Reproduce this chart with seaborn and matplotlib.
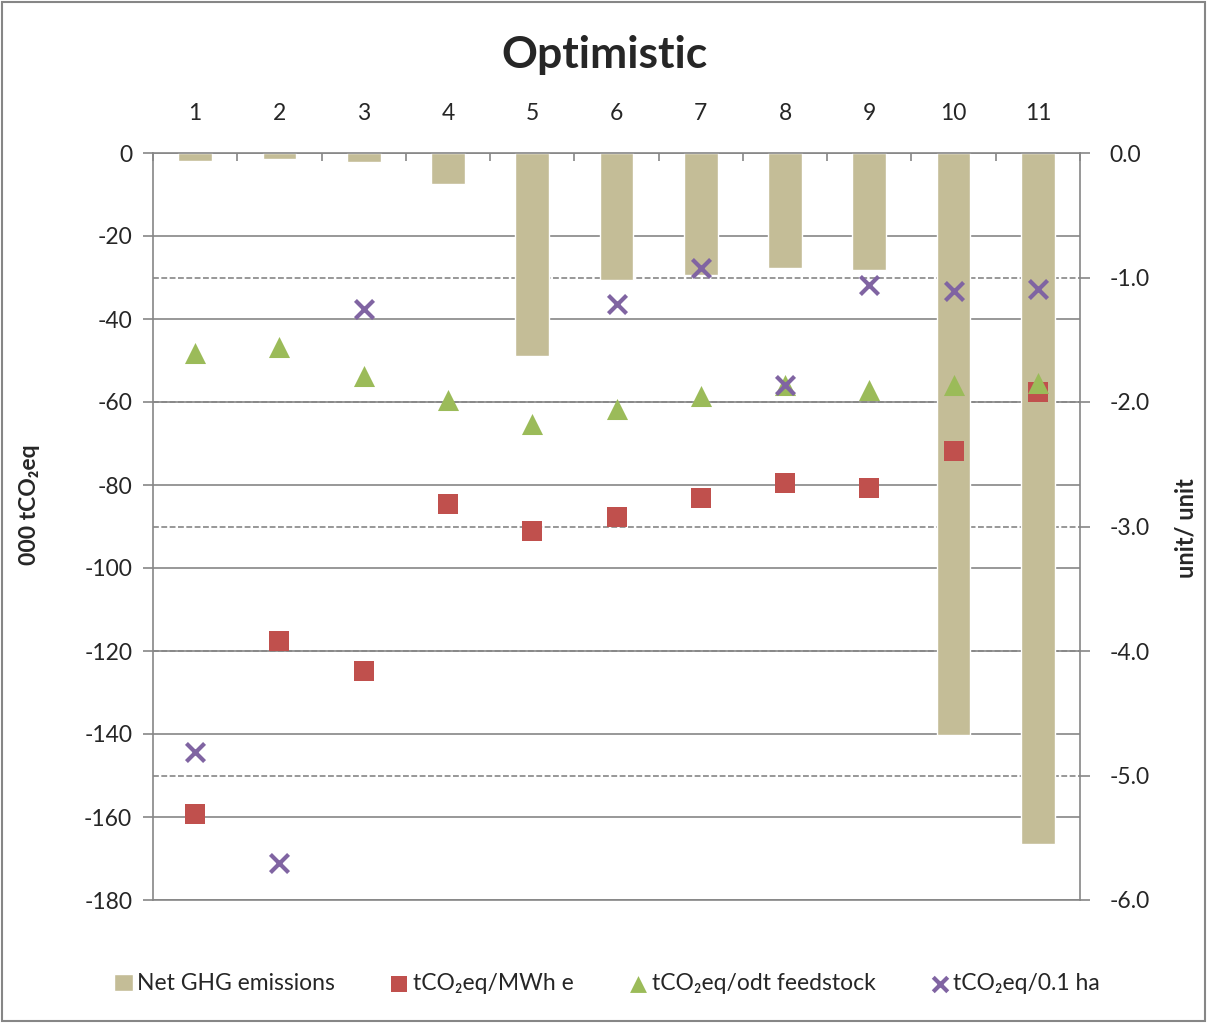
import numpy as np
import pandas as pd
import matplotlib
matplotlib.use("Agg")
import matplotlib.pyplot as plt
import seaborn as sns
from matplotlib.patches import Rectangle

# ---- data ----
categories = ["1", "2", "3", "4", "5", "6", "7", "8", "9", "10", "11"]
net_ghg = [-2.0, -1.5, -2.2, -7.5, -49.0, -30.6, -29.4, -27.7, -28.2, -140.2, -166.5]
per_mwh = [-5.31, -3.92, -4.16, -2.82, -3.04, -2.92, -2.77, -2.65, -2.69, -2.39, -1.92]
per_odt = [-1.61, -1.56, -1.79, -1.98, -2.18, -2.06, -1.95, -1.86, -1.90, -1.86, -1.85]
per_ha = [-4.81, -5.70, -1.25, np.nan, np.nan, -1.21, -0.92, -1.86, -1.06, -1.11, -1.09]
left_ticks = list(range(-180, 1, 20))
right_ticks = [-6.0, -5.0, -4.0, -3.0, -2.0, -1.0, 0.0]

labels = ["Net GHG emissions", "tCO\u2082eq/MWh e", "tCO\u2082eq/odt feedstock", "tCO\u2082eq/0.1 ha"]
colors = ["#C4BD97", "#C0504D", "#9BBB59", "#8064A2"]

sns.set_style("white")
plt.rcParams["font.family"] = ["Lato", "DejaVu Sans"]
plt.rcParams["axes.unicode_minus"] = False

grid_c = "#868686"
fig = plt.figure(figsize=(12.07, 10.23), dpi=100)
ax = fig.add_axes([153 / 1207, 1 - 900 / 1023, (1080 - 153) / 1207, (900 - 153) / 1023])

df = pd.DataFrame({"cat": categories, "net": net_ghg})
sns.barplot(data=df, x="cat", y="net", order=categories, color=colors[0], saturation=1,
            width=0.4, errorbar=None, ax=ax, label=labels[0], zorder=2)
ax.set_xlim(-0.5, len(categories) - 0.5)
ax.set_ylim(left_ticks[0], left_ticks[-1])
ax.set_yticks(left_ticks)
ax.set_yticklabels([str(t) for t in left_ticks])
ax.set_axisbelow(True)
ax.yaxis.grid(True, color=grid_c, lw=1.2, linestyle="-")
ax.xaxis.grid(False)

scale = left_ticks[0] / right_ticks[0]
for v in right_ticks[1:-1]:
    ax.axhline(v * scale, color=grid_c, lw=1.2, linestyle=(0, (3.5, 1.5)), zorder=0.6)

ax.xaxis.tick_top()
ax.tick_params(axis="x", which="major", length=0, pad=21, labelsize=16.5, top=True, bottom=False,
               labeltop=True, labelbottom=False)
ax.set_xticks(np.arange(-0.5, len(categories), 1), minor=True)
ax.tick_params(axis="x", which="minor", direction="in", length=6, color=grid_c, width=1.2,
               top=True, bottom=False)
ax.tick_params(axis="y", which="major", direction="out", length=7, color=grid_c, width=1.2,
               labelsize=16.5, pad=8, left=True)
ax.set_xlabel("")
ax.set_ylabel("")
for s in ax.spines.values():
    s.set_color(grid_c)
    s.set_linewidth(1.2)
ax.spines["right"].set_visible(False)

ax2 = ax.twinx()
pos = np.arange(len(categories))
sns.scatterplot(x=pos, y=per_mwh, marker="s", s=190, color=colors[1], linewidth=0, ax=ax2,
                label=labels[1], zorder=3)
sns.scatterplot(x=pos, y=per_odt, marker="^", s=230, color=colors[2], linewidth=0, ax=ax2,
                label=labels[2], zorder=4)
sns.scatterplot(x=pos, y=per_ha, marker="x", s=170, color=colors[3], linewidth=3, ax=ax2,
                label=labels[3], zorder=5)
ax2.set_ylim(right_ticks[0], right_ticks[-1])
ax2.set_yticks(right_ticks)
ax2.set_yticklabels([f"{t:.1f}" for t in right_ticks])
ax2.tick_params(axis="y", direction="out", length=7, color=grid_c, width=1.2, labelsize=16.5, pad=14)
ax2.set_ylabel("")
ax2.grid(False)
for k, s in ax2.spines.items():
    s.set_visible(k == "right")
    s.set_color(grid_c)
    s.set_linewidth(1.2)

h1, l1 = ax.get_legend_handles_labels()
h2, l2 = ax2.get_legend_handles_labels()
if ax2.get_legend() is not None:
    ax2.get_legend().remove()
if ax.get_legend() is not None:
    ax.get_legend().remove()
fig.legend(h1 + h2, l1 + l2, loc="center", bbox_to_anchor=(0.503, 1 - 984 / 1023), ncol=4,
           frameon=False, fontsize=16.5, handlelength=0.8, handleheight=0.8, handletextpad=0.2,
           columnspacing=2.4, markerscale=0.8, scatterpoints=1)

fig.text(0.501, 1 - 55 / 1023, "Optimistic", ha="center", va="center", fontsize=32, fontweight="bold")
fig.text(30 / 1207, 1 - 505 / 1023, "000 tCO\u2082eq", ha="center", va="center", rotation=90,
         fontsize=16.5, fontweight="bold")
fig.text(1186 / 1207, 1 - 528 / 1023, "unit/ unit", ha="center", va="center", rotation=90,
         fontsize=17, fontweight="bold")

fig.patches.append(Rectangle((0.002, 0.002), 0.996, 0.996, transform=fig.transFigure, fill=False,
                             edgecolor=grid_c, lw=1.5))

fig.savefig("out.png", dpi=100)
